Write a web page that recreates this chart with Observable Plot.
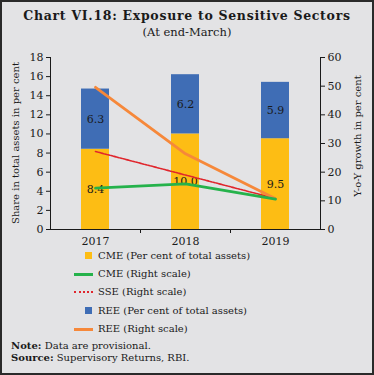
<!DOCTYPE html>
<html><head><meta charset="utf-8">
<script src="https://cdn.jsdelivr.net/npm/d3@7"></script>
<script src="https://cdn.jsdelivr.net/npm/@observablehq/plot@0.6"></script>
<style>
html,body{margin:0;padding:0;background:#fff}
#wrap{position:relative;width:374px;height:375px;background:#e3e3e5;font-family:"DejaVu Serif",serif;color:#1a1a1a;overflow:hidden}
#border{position:absolute;left:0;top:0;width:374px;height:375px;box-sizing:border-box;border:2px solid #2a2a2a;pointer-events:none}
.abs{position:absolute;white-space:nowrap}
#chart{position:absolute;left:0;top:0}
.title{left:0;width:374px;text-align:center;font-weight:bold;font-size:12.5px;letter-spacing:0.7px;top:8px}
.sub{left:0;width:374px;text-align:center;font-size:11.5px;top:25px}
.ytitle{font-size:10px;transform:translate(-50%,-50%) rotate(-90deg)}
.leg{left:74px;font-size:10px;height:12px;line-height:12px}
.sw{position:absolute;top:0}
.lt{position:absolute;left:24px;top:0}
.note{left:11px;font-size:10px}
</style></head>
<body>
<div id="wrap">
  <div class="abs title">Chart VI.18: Exposure to Sensitive Sectors</div>
  <div class="abs sub">(At end-March)</div>
  <div id="chart"></div>
  <div class="abs ytitle" style="left:15px;top:143px">Share in total assets in per cent</div>
  <div class="abs ytitle" style="left:357px;top:136px">Y-o-Y growth in per cent</div>
  <div id="legend"></div>
  <div class="abs note" style="top:340px"><b>Note:</b> Data are provisional.</div>
  <div class="abs note" style="top:352px"><b>Source:</b> Supervisory Returns, RBI.</div>
  <div id="border"></div>
</div>
<script>
const years = ["2017", "2018", "2019"];
const cmeShare = [8.4, 10.0, 9.5];
const reeShare = [6.3, 6.2, 5.9];
const cmeGrowth = [14.4, 15.9, 10.6];
const sseGrowth = [27.2, 19.0, 10.8];
const reeGrowth = [49.6, 26.4, 10.7];
const leftTicks = [0, 2, 4, 6, 8, 10, 12, 14, 16, 18];
const rightTicks = [0, 10, 20, 30, 40, 50, 60];
const leftMax = 18, rightMax = 60;

const colors = {cme: "#fdbd14", ree: "#3f6db5", cmeLine: "#25b24b", sseLine: "#e0262d", reeLine: "#f6883a"};

const bars = [
  ...years.map((y, i) => ({year: y, series: "CME", v: cmeShare[i]})),
  ...years.map((y, i) => ({year: y, series: "REE", v: reeShare[i]}))
];
const toLeft = v => v * leftMax / rightMax;
const lineData = (arr) => years.map((y, i) => ({year: y, v: arr[i]}));

const plot = Plot.plot({
  width: 374, height: 250,
  marginLeft: 50, marginRight: 54, marginTop: 57, marginBottom: 21,
  style: {background: "transparent", fontFamily: "DejaVu Serif, serif", fontSize: "10px", color: "#1a1a1a"},
  x: {domain: years, paddingInner: 0.69, paddingOuter: 0.345, label: null},
  y: {domain: [0, leftMax], label: null},
  color: {domain: ["CME", "REE"], range: [colors.cme, colors.ree]},
  marks: [
    Plot.barY(bars, {x: "year", y: "v", fill: "series", order: ["CME", "REE"]}),
    Plot.text(bars, Plot.stackY({x: "year", y: "v", z: "series", order: ["CME", "REE"], text: d => d.v.toFixed(1), fill: "#1a1a1a", fontSize: 11})),
    Plot.line(lineData(sseGrowth), {x: "year", y: d => toLeft(d.v), stroke: colors.sseLine, strokeWidth: 1.6, strokeDasharray: "2,1.2"}),
    Plot.line(lineData(reeGrowth), {x: "year", y: d => toLeft(d.v), stroke: colors.reeLine, strokeWidth: 2.8}),
    Plot.line(lineData(cmeGrowth), {x: "year", y: d => toLeft(d.v), stroke: colors.cmeLine, strokeWidth: 2.8}),
    Plot.frame({anchor: "left", stroke: "#1a1a1a"}),
    Plot.frame({anchor: "right", stroke: "#1a1a1a"}),
    Plot.ruleY([0], {stroke: "#1a1a1a"}),
    Plot.ruleX(["2017", "2018"], {x: d => d, dx: 45, y1: 0, y2: -0.42, stroke: "#1a1a1a"}),
    Plot.axisY(leftTicks, {anchor: "left", tickSize: 4, tickPadding: 3, label: null, fontSize: 11}),
    Plot.axisY(rightTicks.map(toLeft), {anchor: "right", tickSize: 4, tickPadding: 3, label: null, fontSize: 11, tickFormat: d => Math.round(d * rightMax / leftMax)}),
    Plot.axisX({anchor: "bottom", tickSize: 0, tickPadding: 8, label: null, fontSize: 11})
  ]
});
document.getElementById("chart").appendChild(plot);

const legendItems = [
  {label: "CME (Per cent of total assets)", type: "box", color: colors.cme, y: 250},
  {label: "CME  (Right scale)", type: "line", color: colors.cmeLine, y: 268},
  {label: "SSE  (Right scale)", type: "dash", color: colors.sseLine, y: 286},
  {label: "REE (Per cent of total assets)", type: "box", color: colors.ree, y: 305},
  {label: "REE  (Right scale)", type: "line", color: colors.reeLine, y: 323}
];
const leg = document.getElementById("legend");
for (const it of legendItems) {
  const row = document.createElement("div");
  row.className = "abs leg";
  row.style.top = it.y + "px";
  let sw;
  if (it.type === "box") sw = `<span class="sw" style="left:11px;top:2px;width:7px;height:7px;background:${it.color}"></span>`;
  else if (it.type === "line") sw = `<span class="sw" style="left:0;top:5px;width:19px;height:3px;background:${it.color}"></span>`;
  else sw = `<span class="sw" style="left:0;top:5px;width:19px;height:0;border-top:2px dotted ${it.color}"></span>`;
  row.innerHTML = sw + `<span class="lt">${it.label}</span>`;
  leg.appendChild(row);
}
</script>
</body></html>
